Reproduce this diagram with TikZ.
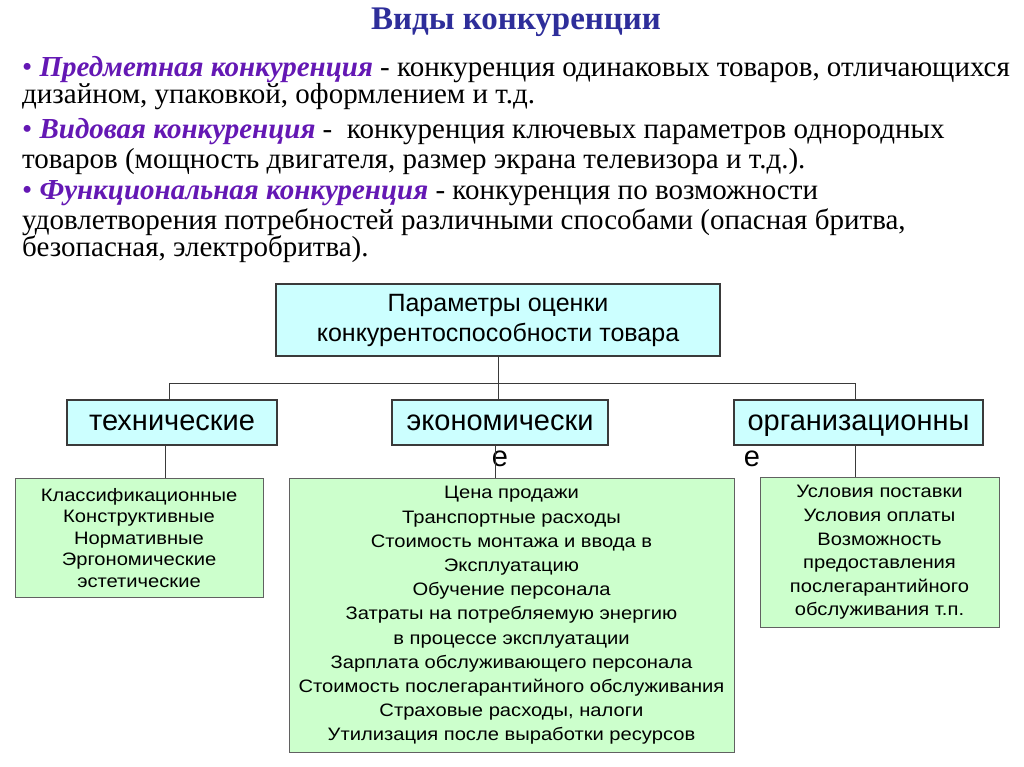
\documentclass[tikz,border=0pt]{standalone}
\usepackage{fontspec}
\setmainfont{Liberation Serif}
\newfontfamily\boxfont{Liberation Sans}
\newfontfamily\listfont[FakeStretch=1.12]{Liberation Sans}
\usepackage{xcolor}
\usetikzlibrary{positioning}

\definecolor{titleblue}{HTML}{2E2E9A}
\definecolor{termviolet}{HTML}{6418B4}
\definecolor{topfill}{HTML}{CCFFFF}
\definecolor{listfill}{HTML}{CCFFCC}
\definecolor{boxline}{HTML}{3A3A3A}

\newcommand{\term}[1]{{\color{termviolet}\bfseries\itshape #1}}
\newcommand{\dotmark}{{\color{termviolet}\textbullet}\ }

\tikzset{
  textline/.style={anchor=west, inner sep=0pt, font=\fontsize{29}{30}\selectfont},
  headbox/.style={draw=boxline, line width=1.2pt, fill=topfill, inner sep=0pt, align=center, font=\boxfont\fontsize{25}{30}\selectfont},
  groupbox/.style={draw=boxline, line width=1.2pt, fill=topfill, inner sep=0pt, align=center, minimum height=45pt,
    text height=21pt, text depth=6pt, font=\boxfont\fontsize{29}{30}\selectfont},
  spill/.style={inner sep=0pt, font=\boxfont\fontsize{29}{30}\selectfont},
  listbox/.style={draw=boxline!80, line width=1pt, fill=listfill, inner sep=0pt, align=center, anchor=north},
  tree/.style={draw=boxline, line width=0.8pt}
}

\begin{document}
\begin{tikzpicture}[x=1pt, y=-1pt]
  \useasboundingbox (0,0) rectangle (1024,767);
  % заголовок
  \node[font=\bfseries\fontsize{33}{36}\selectfont, text=titleblue] (title) at (516,22) {Виды конкуренции};
  % виды конкуренции
  \node[textline] (l1) at (22,70) {\dotmark\term{Предметная конкуренция} - конкуренция одинаковых товаров, отличающихся};
  \node[textline] (l2) at (22,97) {дизайном, упаковкой, оформлением и т.д.};
  \node[textline] (l3) at (22,132) {\dotmark\term{Видовая конкуренция} -\ \ конкуренция ключевых параметров однородных};
  \node[textline] (l4) at (22,162) {товаров (мощность двигателя, размер экрана телевизора и т.д.).};
  \node[textline] (l5) at (22,193) {\dotmark\term{Функциональная конкуренция} - конкуренция по возможности};
  \node[textline] (l6) at (22,222) {удовлетворения потребностей различными способами (опасная бритва,};
  \node[textline] (l7) at (22,249) {безопасная, электробритва).};
  % схема параметров
  \node[headbox, minimum width=444pt, minimum height=72pt] (top) at (498,320) {Параметры оценки\\конкурентоспособности товара};
  \node[groupbox, minimum width=210pt] (tech) at (172,422.5) {технические};
  \node[groupbox, minimum width=216pt] (econ) at (500,422.5) {экономически};
  \node[groupbox, minimum width=249pt] (org) at (858.5,422.5) {организационны};
  \node[spill] (econe) at (500,459) {е};
  \node[spill] (orge) at (752,459) {е};
  \node[listbox, minimum width=248pt, minimum height=119pt, font=\listfont\fontsize{18}{21.5}\selectfont] (techlist) at (139,478) {%
    Классификационные\\Конструктивные\\Нормативные\\Эргономические\\эстетические};
  \node[listbox, minimum width=445pt, minimum height=274pt, font=\listfont\fontsize{18}{24.2}\selectfont] (econlist) at (511.5,478) {%
    Цена продажи\\Транспортные расходы\\Стоимость монтажа и ввода в\\Эксплуатацию\\Обучение персонала\\%
    Затраты на потребляемую энергию\\в процессе эксплуатации\\Зарплата обслуживающего персонала\\%
    Стоимость послегарантийного обслуживания\\Страховые расходы, налоги\\Утилизация после выработки ресурсов};
  \node[listbox, minimum width=239pt, minimum height=150pt, font=\listfont\fontsize{18}{23.6}\selectfont] (orglist) at (879.5,477) {%
    Условия поставки\\Условия оплаты\\Возможность\\предоставления\\послегарантийного\\обслуживания т.п.};
  % соединения
  \coordinate (fork) at (top.south |- 0,383);
  \draw[tree] (top.south) -- (fork);
  \draw[tree] (fork -| 169,0) -- (fork -| 855,0);
  \draw[tree] (fork -| 169,0) -- (tech.north -| 169,0);
  \draw[tree] (fork) -- (econ.north -| fork);
  \draw[tree] (fork -| 855,0) -- (org.north -| 855,0);
  \draw[tree] (tech.south -| 165,0) -- (techlist.north -| 165,0);
  \draw[tree] (econ.south -| 495,0) -- (econlist.north -| 495,0);
  \draw[tree] (org.south -| 855,0) -- (orglist.north -| 855,0);
\end{tikzpicture}
\end{document}
